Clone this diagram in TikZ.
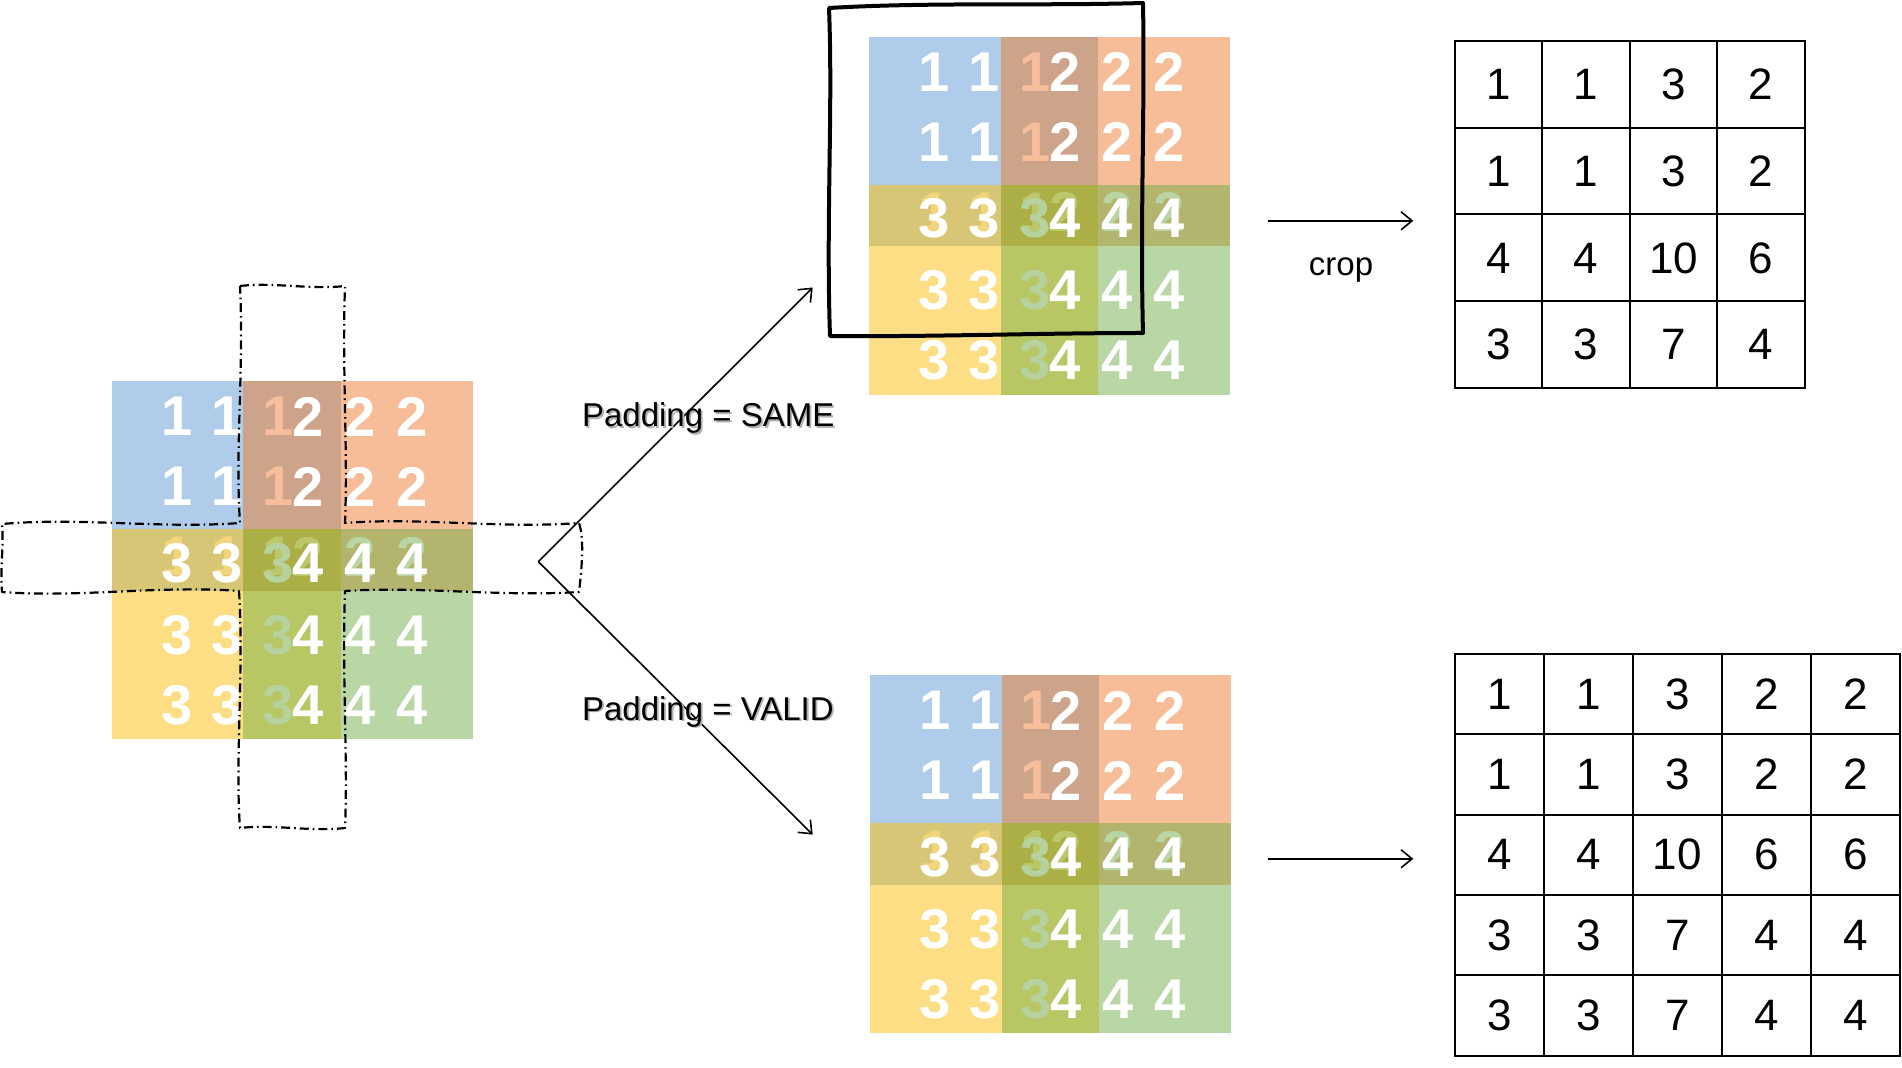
\documentclass[tikz,border=0pt]{standalone}
\usepackage{fontspec}
\setmainfont{Liberation Sans}
\usetikzlibrary{arrows.meta}
\definecolor{cBlue}{HTML}{AFCDEA}
\definecolor{cBrown}{HTML}{CDA48A}
\definecolor{cPeach}{HTML}{F7BD99}
\definecolor{cOliveL}{HTML}{D6C676}
\definecolor{cOliveC}{HTML}{ABAF46}
\definecolor{cOliveR}{HTML}{B3B56F}
\definecolor{cYellow}{HTML}{FEDE84}
\definecolor{cGreenC}{HTML}{B9C664}
\definecolor{cGreen}{HTML}{B9D6A5}
\definecolor{fPeach}{HTML}{F6BE9C}
\definecolor{fYellow}{HTML}{F3D57C}
\definecolor{fOlive}{HTML}{BCC76A}
\definecolor{fGreen}{HTML}{B9D5A4}
\definecolor{fGreenT}{HTML}{B5D29F}
\tikzset{
  dig/.style={font=\fontsize{28}{28}\selectfont\bfseries, text=white, inner sep=0pt, anchor=center},
  crossline/.style={line width=1.1pt, dash pattern=on 4.5pt off 2pt on 0.8pt off 2pt, line join=round},
  sketch/.style={line width=2pt, line join=round},
  arr/.style={line width=0.8pt, -{Straight Barb[length=5.5pt,width=9pt]}},
  lbl/.style={font=\fontsize{16.5}{16.5}\selectfont, anchor=base west, inner sep=0pt},
  lblshadow/.style={lbl, text=black!30},
  cellA/.style={draw, line width=1pt, minimum width=43.79pt, minimum height=43.45pt, inner sep=0pt, font=\fontsize{22}{22}\selectfont},
  cellB/.style={draw, line width=1pt, minimum width=44.53pt, minimum height=40.17pt, inner sep=0pt, font=\fontsize{22}{22}\selectfont}
}
\newcommand\cgrid[3]{%
\begin{scope}[shift={(#2,#3)}]
\fill[cBlue] (0,0) rectangle (131.6,148);
\fill[cBrown] (131.6,0) rectangle (229.3,148);
\fill[cPeach] (229.3,0) rectangle (361,148);
\fill[cOliveL] (0,148) rectangle (131.6,209.7);
\fill[cOliveC] (131.6,148) rectangle (229.3,209.7);
\fill[cOliveR] (229.3,148) rectangle (361,209.7);
\fill[cYellow] (0,209.7) rectangle (131.6,358);
\fill[cGreenC] (131.6,209.7) rectangle (229.3,358);
\fill[cGreen] (229.3,209.7) rectangle (361,358);
\node[dig,text=fPeach] (#1-f1a) at (166,35.7) {1};
\node[dig,text=fPeach] (#1-f1b) at (166,105.7) {1};
\node[dig,text=fYellow] (#1-f1c) at (65,175.7) {1};
\node[dig,text=fYellow] (#1-f1d) at (115,175.7) {1};
\node[dig,text=fOlive] (#1-f1e) at (166,175.7) {1};
\node[dig,text=fOlive] (#1-f2a) at (196.5,175.7) {2};
\node[dig,text=fGreen] (#1-f2b) at (248.5,175.7) {2};
\node[dig,text=fGreen] (#1-f2c) at (300,175.7) {2};
\node[dig,text=fGreenT] (#1-f3a) at (166,182) {3};
\node[dig,text=fGreenT] (#1-f3b) at (166,254) {3};
\node[dig,text=fGreenT] (#1-f3c) at (166,324) {3};
\foreach \x [count=\i] in {65,115} {\foreach \y [count=\j] in {35.7,105.7} {\node[dig] (#1-one-\i-\j) at (\x,\y) {1};}}
\foreach \x [count=\i] in {196.5,248.5,300} {\foreach \y [count=\j] in {35.7,105.7} {\node[dig] (#1-two-\i-\j) at (\x,\y) {2};}}
\foreach \x [count=\i] in {65,115} {\foreach \y [count=\j] in {182,254,324} {\node[dig] (#1-three-\i-\j) at (\x,\y) {3};}}
\foreach \x [count=\i] in {196.5,248.5,300} {\foreach \y [count=\j] in {182,254,324} {\node[dig] (#1-four-\i-\j) at (\x,\y) {4};}}
\end{scope}}
\begin{document}
\begin{tikzpicture}[x=0.5pt,y=-0.5pt]
\useasboundingbox[fill=white] (0,0) rectangle (1902,1068);

% colour grids
\cgrid{gl}{111.7}{381}
\cgrid{gs}{869}{36.7}
\cgrid{gv}{870}{675}

% dash-dot cross on the left grid
\draw[crossline] (240,286) .. controls (275,282) and (310,290) .. (345,286)
 .. controls (342,370) and (348,450) .. (345,523)
 .. controls (420,517) and (500,529) .. (579,523)
 .. controls (585,540) and (581,575) .. (579,592)
 .. controls (500,597) and (420,586) .. (345,591)
 .. controls (342,680) and (348,760) .. (345,828)
 .. controls (310,832) and (275,824) .. (240,828)
 .. controls (235,760) and (244,670) .. (239,591)
 .. controls (160,585) and (80,598) .. (2,592)
 .. controls (0,570) and (4,545) .. (2,524)
 .. controls (80,517) and (160,529) .. (240,523)
 .. controls (235,450) and (244,370) .. (240,286) -- cycle;

% sketchy crop frame
\draw[sketch] (829,8) .. controls (930,2) and (1040,6) .. (1143,3)
 .. controls (1145,110) and (1140,220) .. (1143,333)
 .. controls (1040,333) and (930,337) .. (830,336)
 .. controls (826,220) and (833,110) .. (829,8) -- cycle;

% connectors
\coordinate (apex) at (538.3,561.7);
\coordinate (sametip) at (812.7,287.5);
\coordinate (validtip) at (812.7,834.6);
\draw[arr] (apex) -- (sametip);
\draw[arr] (apex) -- (validtip);
\coordinate (cropA) at (1267.6,220.8);
\coordinate (cropB) at (1413.3,220.8);
\coordinate (valA) at (1267.6,858.8);
\coordinate (valB) at (1413.3,858.8);
\draw[arr] (cropA) -- (cropB);
\draw[arr] (valA) -- (valB);

% labels
\node[lblshadow] (same-sh) at (583.5,428.5) {Padding = SAME};
\node[lbl] (same) at (581.7,426.7) {Padding = SAME};
\node[lblshadow] (valid-sh) at (583.5,722) {Padding = VALID};
\node[lbl] (valid) at (581.7,720.2) {Padding = VALID};
\node[lbl, anchor=base] (crop) at (1341,276) {crop};

% result tables
\foreach \r/\vals in {1/{1,1,3,2},2/{1,1,3,2},3/{4,4,10,6},4/{3,3,7,4}} {
  \foreach \v [count=\c] in \vals {
    \node[cellA] (ta-\r-\c) at ({1454.7+87.575*(\c-0.5)},{40.7+86.9*(\r-0.5)}) {\v};
  }
}
\foreach \r/\vals in {1/{1,1,3,2,2},2/{1,1,3,2,2},3/{4,4,10,6,6},4/{3,3,7,4,4},5/{3,3,7,4,4}} {
  \foreach \v [count=\c] in \vals {
    \node[cellB] (tb-\r-\c) at ({1454.7+89.06*(\c-0.5)},{654+80.34*(\r-0.5)}) {\v};
  }
}
\end{tikzpicture}
\end{document}
